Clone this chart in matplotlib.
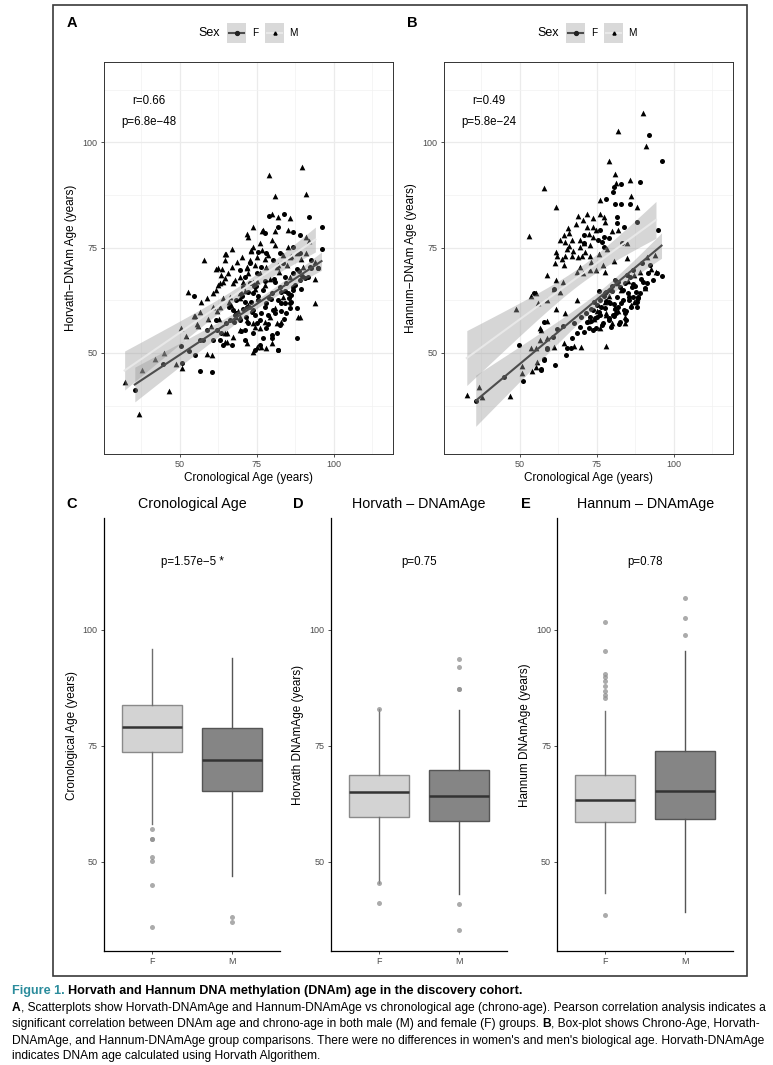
import numpy as np
import matplotlib
matplotlib.use("Agg")
import matplotlib.pyplot as plt
from matplotlib import font_manager
from matplotlib.patches import Rectangle
from matplotlib.lines import Line2D

# ---------------- dados ----------------
# Painel A: idade cronologica (x) vs Horvath DNAm (y)
a_f_x = [83.9, 78.9, 91.9, 96.0, 81.9, 86.9, 88.9, 77.8, 86.8, 96.0, 75.4,
         54.6, 54.9, 66.8, 74.4, 76.0, 79.8, 81.9, 87.9, 85.7, 84.1, 86.8, 89.5, 89.7, 92.7, 94.9,
         79.8, 70.0, 77.6, 78.7, 73.3, 71.1, 68.4, 67.6, 72.2, 74.4, 71.1, 81.9, 83.0, 87.9, 86.2,
         44.6, 50.8, 35.4, 50.3, 56.5, 60.6,
         69.5, 71.1, 72.7, 73.8, 75.4, 77.0, 78.1, 79.8, 80.3, 82.5, 83.0, 84.6, 85.2, 86.8, 86.8,
         89.0, 91.6, 92.2, 94.9, 89.0, 83.5, 82.5, 80.3, 78.1, 76.5, 74.9, 72.7, 70.6, 68.4, 67.3,
         66.2, 69.5, 71.1, 73.8, 77.0, 76.0, 78.1, 81.4, 82.5, 84.6, 85.7, 73.8, 71.7, 61.9, 63.5,
         64.1, 63.0, 60.8, 58.7, 56.5, 81.9,
         53.0, 57.5, 62.0, 65.0, 68.0, 75.5, 79.0, 84.0, 88.0, 92.5, 70.5, 74.0, 80.5, 66.0, 72.0,
         70.2, 72.5, 74.8, 76.3, 77.8, 79.5, 81.0, 82.8, 84.3, 86.0, 87.5, 88.7, 90.5, 75.2, 78.6,
         80.8, 83.7, 85.5, 73.0, 71.5]
a_f_y = [82.9, 82.5, 82.3, 80.0, 80.0, 78.8, 77.9, 78.4, 75.2, 74.6, 74.0,
         63.6, 49.5, 51.9, 50.7, 51.9, 53.6, 50.7, 53.6, 60.6, 61.8, 65.7, 65.3, 68.3, 70.2, 70.2,
         54.3, 55.1, 61.0, 59.0, 59.8, 62.2, 59.4, 57.4, 57.0, 59.0, 53.1, 62.6, 64.5, 60.6, 63.8,
         47.4, 47.5, 41.2, 51.6, 45.7, 45.4,
         69.7, 68.1, 66.5, 64.2, 62.6, 65.0, 61.8, 64.2, 60.2, 65.7, 61.8, 66.5, 64.2, 65.0, 68.9,
         67.3, 68.1, 70.5, 70.1, 73.7, 71.3, 73.7, 72.1, 73.7, 70.5, 68.9, 71.3, 65.7, 62.6, 60.2,
         57.8, 57.8, 55.5, 54.7, 53.5, 57.8, 55.9, 54.7, 56.6, 59.4, 61.8, 60.2, 61.0, 57.8, 54.7,
         51.9, 53.1, 53.1, 55.5, 53.1, 50.7,
         50.5, 53.0, 55.5, 57.0, 59.0, 63.5, 63.0, 68.0, 70.0, 72.0, 60.5, 66.0, 67.5, 61.0, 64.5,
         63.5, 60.8, 66.0, 59.5, 67.2, 62.8, 66.8, 60.0, 64.8, 62.0, 66.2, 69.5, 67.8, 57.2, 56.8,
         59.6, 58.0, 63.0, 62.0, 58.5]

a_m_x = [89.8, 78.9, 80.8, 90.9, 79.8, 81.9, 85.8, 73.8, 71.9, 76.7, 80.8, 85.0, 79.8, 90.9,
         66.8, 64.6, 73.0, 80.8, 85.0,
         57.8, 64.8, 68.7, 61.7, 63.7, 66.8, 64.1, 62.4, 52.7, 58.7, 60.8, 56.5, 54.6, 50.5, 55.7,
         58.7, 60.6, 64.8, 64.8, 71.7, 74.4, 77.6, 83.0, 79.8, 76.5, 73.8, 93.8, 94.0, 89.0, 72.2,
         69.5, 74.4, 77.6, 80.8, 69.5, 74.9, 77.6, 89.5, 71.7, 70.6, 62.4,
         54.9, 46.5, 36.7, 32.1, 37.6, 48.7, 50.8,
         64.9, 71.7, 73.0, 83.5, 85.7, 87.9, 91.1, 93.8, 88.4, 81.4, 73.8, 69.5, 65.2, 65.2, 67.3,
         74.9, 78.1, 63.0, 66.2, 69.5, 67.3, 69.5, 72.2, 73.8, 76.0, 78.1, 61.9, 64.1, 60.8, 63.0,
         64.6, 68.4, 71.7, 76.0, 79.2, 83.5, 85.7, 90.0, 81.4, 73.8, 76.0, 77.0, 72.2,
         42.0, 45.0, 52.0, 56.0, 59.0, 62.0, 66.0, 70.0, 75.0, 82.0, 86.0, 92.0,
         63.5, 65.8, 67.9, 70.2, 72.8, 74.5, 76.8, 78.5, 66.5, 68.8, 71.3, 75.5, 79.2, 82.2, 84.8,
         62.8, 60.0, 57.0]
a_m_y = [94.1, 92.2, 87.3, 87.7, 82.9, 82.3, 82.1, 79.9, 78.2, 79.0, 79.0, 79.2, 76.8, 77.6,
         74.7, 73.6, 74.4, 75.6, 75.1,
         72.0, 72.1, 71.5, 69.9, 69.9, 70.5, 66.9, 66.1, 64.4, 63.0, 61.0, 59.8, 58.8, 56.0, 56.8,
         49.7, 49.5, 52.5, 54.7, 52.3, 56.2, 57.4, 57.4, 52.3, 51.3, 50.3, 61.8, 67.6, 58.6, 61.3,
         63.0, 65.3, 66.1, 60.6, 58.6, 72.8, 72.4, 72.4, 70.1, 66.9, 70.1,
         58.8, 41.0, 35.4, 43.0, 46.0, 47.4, 46.4,
         73.5, 70.5, 74.3, 73.3, 72.9, 73.7, 73.7, 71.7, 58.6, 57.0, 57.0, 55.5, 54.7, 52.7, 53.9,
         51.5, 51.1, 61.0, 63.4, 64.2, 66.5, 68.1, 68.9, 66.9, 68.9, 70.5, 65.0, 63.0, 64.2, 66.5,
         67.7, 58.6, 57.8, 55.9, 58.6, 63.4, 68.1, 70.5, 70.5, 75.2, 76.0, 79.2, 77.6,
         48.5, 50.0, 54.0, 56.5, 58.0, 60.0, 62.0, 64.5, 67.0, 71.0, 73.0, 76.5,
         68.5, 69.0, 67.3, 72.8, 72.0, 70.8, 74.5, 73.2, 61.5, 60.0, 64.8, 63.0, 67.5, 69.2, 71.0,
         58.0, 56.5, 62.0]

# Painel B: idade cronologica (x) vs Hannum DNAm (y)
b_f_x = [92.0, 96.0, 89.0, 83.0, 80.2, 80.6, 78.0, 80.9, 82.8, 85.8, 81.5, 81.5, 83.9, 88.0,
         76.1, 77.2, 78.8, 71.0, 70.7, 75.5, 76.6, 77.2, 83.1, 94.7, 96.0,
         58.0, 61.5, 65.1, 66.6, 62.1, 58.9, 82.6, 84.2, 86.9, 89.0, 88.0, 91.2, 93.3, 94.4, 92.3,
         89.6, 86.9,
         85.8, 84.2, 82.6, 80.9, 79.3, 77.7, 76.1, 75.0, 73.9, 72.9, 71.8, 69.6, 70.7, 73.9, 76.6,
         78.8, 80.4, 82.0, 83.6, 85.2, 86.3, 83.6, 81.5, 79.3, 77.7, 76.1, 74.5, 72.3, 68.6, 66.9,
         35.7, 49.9, 51.0, 44.8, 58.9, 56.9, 58.0, 54.7, 57.8, 60.7, 57.0, 65.3, 61.0,
         87.5, 90.0, 91.5, 79.0, 81.0, 84.5, 75.0, 73.0, 70.0, 67.5, 64.0, 88.5, 85.5, 80.0, 78.0,
         74.2, 75.8, 77.3, 78.9, 80.5, 82.1, 83.7, 85.3, 86.8, 88.2, 73.0, 74.8, 76.4, 78.0, 79.6,
         81.2, 82.8, 84.4, 86.0, 87.6, 89.3, 71.5, 75.6, 79.8, 81.9, 84.8, 88.5, 90.6, 77.0, 80.7]
b_f_y = [101.7, 95.6, 90.5, 90.1, 88.3, 89.3, 86.5, 85.4, 85.4, 85.4, 82.3, 80.8, 80.0, 81.2,
         79.2, 77.6, 77.2, 78.0, 76.0, 76.8, 76.4, 75.2, 76.0, 79.2, 68.3,
         48.3, 47.1, 49.5, 51.1, 55.6, 51.1, 57.4, 59.4, 63.4, 64.2, 62.2, 66.5, 67.3, 68.9, 70.9,
         71.3, 69.7,
         68.1, 66.5, 65.7, 67.3, 64.9, 64.2, 62.6, 61.4, 60.2, 58.6, 57.4, 56.2, 55.0, 55.5, 56.6,
         57.8, 59.0, 61.0, 62.6, 64.2, 65.7, 64.9, 63.4, 61.8, 60.6, 59.0, 58.2, 55.9, 54.7, 53.5,
         38.7, 52.0, 43.3, 44.2, 50.9, 46.0, 48.5, 64.2, 57.4, 53.9, 46.1, 51.1, 65.3,
         66.0, 66.8, 69.0, 62.0, 60.5, 60.0, 58.5, 60.5, 58.5, 57.0, 56.5, 63.0, 62.5, 66.0, 64.5,
         62.0, 59.8, 63.6, 58.4, 61.6, 56.8, 60.2, 63.2, 66.4, 60.8, 57.6, 56.0, 60.8, 62.4, 56.2,
         59.4, 61.8, 57.9, 61.0, 64.4, 67.6, 59.6, 64.8, 64.6, 66.8, 68.6, 63.2, 65.5, 57.2, 58.8]

b_m_x = [89.9, 82.0, 91.0, 79.0, 58.0, 61.9, 80.9, 85.8, 81.3, 86.0, 88.0, 75.9, 68.9, 71.8,
         73.9, 76.1, 77.2, 77.7, 65.8, 64.2, 71.8, 73.9, 79.9, 82.0, 84.9, 63.2, 64.8, 66.9, 69.6,
         70.7, 72.9, 73.9, 61.9, 65.3, 69.6, 64.8, 66.9, 70.2, 72.9, 93.9,
         62.1, 61.5, 64.5, 69.6, 70.5, 72.9, 68.6, 74.8, 77.7, 58.9, 61.9, 64.0, 61.0, 63.2, 68.6,
         58.9, 61.9, 64.8, 56.7, 58.9, 61.0, 64.2, 67.5, 69.9, 77.9, 89.0,
         32.8, 36.7, 37.8, 46.8, 48.9, 50.8, 50.8, 53.7, 55.1, 56.0, 58.9, 56.9, 53.5, 55.1, 54.0,
         55.1, 55.6, 56.7, 52.9, 94.2, 91.2, 84.7,
         74.0, 76.0, 78.0, 80.0, 82.0, 84.0, 86.0, 88.0, 79.0, 83.0, 75.0, 77.5, 81.5, 85.0, 72.0,
         87.0, 90.5, 92.5,
         66.0, 68.2, 70.4, 72.6, 74.6, 67.4, 71.2, 75.8, 78.4, 63.6, 65.9, 69.0, 73.1, 76.9, 80.6,
         78.0, 81.0, 84.0, 87.0]
b_m_y = [107.0, 102.8, 99.1, 95.7, 89.2, 84.7, 92.6, 91.1, 90.3, 87.3, 84.7, 86.3, 82.5, 83.1,
         82.0, 83.1, 82.3, 81.2, 79.6, 78.0, 79.8, 80.0, 79.0, 79.2, 76.0, 76.8, 76.4, 76.8, 76.8,
         76.0, 75.6, 77.6, 74.0, 74.8, 75.2, 73.0, 73.0, 73.0, 73.0, 73.3,
         73.0, 71.4, 70.9, 70.3, 68.9, 69.7, 69.3, 69.7, 69.3, 68.5, 67.3, 66.9, 65.3, 64.5, 62.6,
         62.6, 60.4, 59.6, 55.9, 53.5, 51.3, 52.3, 51.7, 51.3, 51.7, 69.3,
         40.0, 41.8, 39.5, 39.8, 60.4, 46.9, 45.2, 63.5, 64.3, 61.9, 57.6, 55.4, 51.1, 51.1, 45.6,
         46.7, 47.9, 53.1, 77.8, 69.3, 72.8, 72.5,
         58.0, 56.0, 59.5, 57.0, 60.0, 58.5, 61.5, 63.0, 63.5, 65.0, 60.0, 62.0, 66.5, 67.0, 57.5,
         68.5, 65.5, 70.0,
         78.4, 80.6, 81.6, 78.2, 79.3, 74.2, 74.0, 73.6, 74.8, 72.2, 75.5, 72.8, 71.6, 70.8, 71.9,
         59.0, 61.0, 57.0, 62.0]

# estatisticas r / p dos paineis de dispersao
scatter_r = ["r=0.66", "r=0.49"]
scatter_p = ["p=6.8e\u221248", "p=5.8e\u221224"]

# Box-plots: [F, M] -> q1, mediana, q3, bigode inferior, bigode superior, outliers
grupos = ["F", "M"]
box_titulos = ["Cronological Age", "Horvath \u2013 DNAmAge", "Hannum \u2013 DNAmAge"]
box_ylabels = ["Cronological Age (years)", "Horvath DNAmAge (years)", "Hannum DNAmAge (years)"]
box_pvalores = ["p=1.57e\u22125 *", "p=0.75", "p=0.78"]
box_q1 = [[73.6, 65.2], [59.6, 58.8], [58.5, 59.3]]
box_med = [[79.0, 72.0], [65.0, 64.2], [63.4, 65.3]]
box_q3 = [[83.8, 78.8], [68.8, 69.8], [68.8, 73.9]]
box_wlo = [[58.1, 47.0], [45.4, 43.1], [43.3, 39.1]]
box_whi = [[95.8, 93.9], [82.9, 82.8], [82.5, 95.5]]
box_out = [
    [[57.0, 55.0, 55.0, 51.1, 50.2, 45.0, 36.0], [38.2, 37.1]],
    [[82.9, 45.4, 41.2], [93.8, 92.0, 87.2, 87.2, 40.9, 35.3]],
    [[101.6, 95.5, 90.4, 89.9, 89.0, 87.8, 86.9, 86.0, 85.3, 38.6], [106.8, 102.6, 98.9]],
]

# ---------------- layout ----------------
W, H = 773, 1065
fig = plt.figure(figsize=(W / 100, H / 100), dpi=100)

nomes = {f.name for f in font_manager.fontManager.ttflist}
fonte = "Liberation Sans" if "Liberation Sans" in nomes else "DejaVu Sans"
plt.rcParams["font.family"] = fonte


def px_ax(l, t, r, b):
    return fig.add_axes([l / W, 1 - b / H, (r - l) / W, (b - t) / H])


def fx(x):
    return x / W


def fy(y):
    return 1 - y / H


COR_TICK = "#4D4D4D"


def regressao(ax, x, y, cor):
    x = np.asarray(x)
    y = np.asarray(y)
    n = len(x)
    b1, b0 = np.polyfit(x, y, 1)
    xs = np.linspace(x.min(), x.max(), 80)
    ys = b0 + b1 * xs
    res = y - (b0 + b1 * x)
    s = np.sqrt(np.sum(res ** 2) / (n - 2))
    sxx = np.sum((x - x.mean()) ** 2)
    se = s * np.sqrt(1 / n + (xs - x.mean()) ** 2 / sxx)
    ax.fill_between(xs, ys - 1.97 * se, ys + 1.97 * se, color="#999999", alpha=0.4,
                    linewidth=0, zorder=3)
    ax.plot(xs, ys, color=cor, lw=1.5, zorder=4)


def painel_dispersao(ax, fxs, fys, mxs, mys, ylabel, r_txt, p_txt):
    ax.scatter(fxs, fys, s=13, marker="o", color="black", linewidths=0, zorder=2)
    ax.scatter(mxs, mys, s=17, marker="^", color="black", linewidths=0, zorder=2)
    regressao(ax, fxs, fys, "#4D4D4D")
    regressao(ax, mxs, mys, "#E8E8E8")
    ax.set_xlim(25.4, 119.2)
    ax.set_ylim(26.0, 119.1)
    ax.set_xticks([50, 75, 100])
    ax.set_yticks([50, 75, 100])
    ax.set_xticks([37.5, 62.5, 87.5, 112.5], minor=True)
    ax.set_yticks([37.5, 62.5, 87.5, 112.5], minor=True)
    ax.grid(which="major", color="#EBEBEB", lw=0.9, zorder=0)
    ax.grid(which="minor", color="#F2F2F2", lw=0.5, zorder=0)
    ax.set_axisbelow(True)
    ax.tick_params(which="minor", length=0)
    ax.tick_params(which="major", length=2.5, width=0.6, color="#333333",
                   labelsize=6.5, labelcolor=COR_TICK, pad=2)
    for sp in ax.spines.values():
        sp.set_color("#333333")
        sp.set_linewidth(0.7)
    ax.set_xlabel("Cronological Age (years)", fontsize=8.5, labelpad=2)
    ax.set_ylabel(ylabel, fontsize=8.5, labelpad=4)
    ax.text(40, 109.8, r_txt, ha="center", va="center", fontsize=8.3)
    ax.text(40, 104.8, p_txt, ha="center", va="center", fontsize=8.3)


axA = px_ax(104, 62, 393, 454)
painel_dispersao(axA, a_f_x, a_f_y, a_m_x, a_m_y, "Horvath\u2212DNAm Age (years)",
                 scatter_r[0], scatter_p[0])
axB = px_ax(444, 62, 733, 454)
painel_dispersao(axB, b_f_x, b_f_y, b_m_x, b_m_y, "Hannum\u2212DNAm Age (years)",
                 scatter_r[1], scatter_p[1])


def legenda(dx):
    fig.text(fx(209 + dx), fy(33), "Sex", ha="center", va="center", fontsize=9)
    for i, (lab, cor, mk) in enumerate([("F", "#4D4D4D", "o"), ("M", "#E8E8E8", "^")]):
        x0 = 227 + dx + i * 38
        fig.patches.append(Rectangle((fx(x0), fy(43)), 19 / W, 20 / H, transform=fig.transFigure,
                                     facecolor="#D9D9D9", edgecolor="none"))
        fig.lines.append(Line2D([fx(x0 + 2), fx(x0 + 17)], [fy(33), fy(33)], transform=fig.transFigure,
                                color=cor, lw=1.5))
        fig.lines.append(Line2D([fx(x0 + 9.5)], [fy(33)], transform=fig.transFigure, marker=mk,
                                color="#222222" if mk == "o" else "black",
                                markersize=2.8 if mk == "o" else 2.2, lw=0))
        fig.text(fx(x0 + 28), fy(33), lab, ha="center", va="center", fontsize=7.2)


legenda(0)
legenda(339.3)
fig.text(fx(72), fy(23), "A", ha="center", va="center", fontsize=10.5, fontweight="bold")
fig.text(fx(412), fy(23), "B", ha="center", va="center", fontsize=10.5, fontweight="bold")

# ---------------- box-plots ----------------
box_pos = [(104, 280), (330.7, 506.7), (557.3, 733.3)]
letras = ["C", "D", "E"]
letra_x = [72, 298, 526]
ylab_x = [72, 298, 525]
preench = ["#D3D3D3", "#858585"]
bordas = ["#8A8A8A", "#555555"]

for k in range(3):
    l, r = box_pos[k]
    ax = px_ax(l, 518, r, 951)
    for j in range(2):
        st = [dict(med=box_med[k][j], q1=box_q1[k][j], q3=box_q3[k][j],
                   whislo=box_wlo[k][j], whishi=box_whi[k][j], fliers=box_out[k][j], label=grupos[j])]
        ax.bxp(st, positions=[j + 1], widths=0.75, patch_artist=True,
               boxprops=dict(facecolor=preench[j], edgecolor=bordas[j], linewidth=1.0),
               whiskerprops=dict(color=bordas[j] if j == 1 else "#6E6E6E", linewidth=1.0),
               capprops=dict(linewidth=0),
               medianprops=dict(color="#333333", linewidth=1.8),
               flierprops=dict(marker="o", markerfacecolor="#8F8F8F", markeredgecolor="none",
                               markersize=3.6, alpha=0.75))
    ax.set_xlim(0.4, 2.6)
    ax.set_ylim(30.8, 124.1)
    ax.set_xticks([1, 2])
    ax.set_xticklabels(grupos)
    ax.set_yticks([50, 75, 100])
    ax.tick_params(length=2.5, width=0.6, color="#333333", labelsize=6.5, labelcolor=COR_TICK, pad=2)
    for s in ["top", "right"]:
        ax.spines[s].set_visible(False)
    for s in ["left", "bottom"]:
        ax.spines[s].set_linewidth(0.9)
    ax.text(1.5, 114.7, box_pvalores[k], ha="center", va="center", fontsize=8.3)
    fig.text(fx((l + r) / 2), fy(504), box_titulos[k], ha="center", va="center", fontsize=10.3)
    fig.text(fx(letra_x[k]), fy(504), letras[k], ha="center", va="center", fontsize=10.5,
             fontweight="bold")
    fig.text(fx(ylab_x[k]), fy(735), box_ylabels[k], ha="center", va="center", rotation=90,
             fontsize=8.5)

# moldura externa
fig.patches.append(Rectangle((fx(53), fy(976)), (747 - 53) / W, (976 - 5) / H, transform=fig.transFigure,
                             facecolor="none", edgecolor="#3A3A3A", lw=1.2))

# ---------------- legenda da figura ----------------
renderer = fig.canvas.get_renderer()
TEAL = "#2B8C9C"

cap_linhas = [
    (990.7, [("Figure 1. ", "bold", TEAL),
             ("Horvath and Hannum DNA methylation (DNAm) age in the discovery cohort.", "bold", "black")]),
    (1007.7, [("A", "bold", "black"),
              (", Scatterplots show Horvath-DNAmAge and Hannum-DNAmAge vs chronological age (chrono-age). "
               "Pearson correlation analysis indicates a", "normal", "black")]),
    (1024.3, [("significant correlation between DNAm age and chrono-age in both male (M) and female (F) groups. ",
               "normal", "black"), ("B", "bold", "black"),
              (", Box-plot shows Chrono-Age, Horvath-", "normal", "black")]),
    (1040.7, [("DNAmAge, and Hannum-DNAmAge group comparisons. There were no differences in women's and "
               "men's biological age. Horvath-DNAmAge", "normal", "black")]),
    (1056.5, [("indicates DNAm age calculated using Horvath Algorithem.", "normal", "black")]),
]


def largura(partes, size):
    w = 0
    for txt, peso, cor in partes:
        t = fig.text(0, 0, txt, fontsize=size, fontweight=peso)
        w += t.get_window_extent(renderer).width
        t.remove()
    return w


# tamanho da fonte ajustado para a linha mais longa caber entre x=12 e x=765
base = 10.0
tam = base * 753 / largura(cap_linhas[1][1], base)
tam_tit = base * 510 / largura(cap_linhas[0][1], base)


def linha(y, partes, size):
    x = 12
    for txt, peso, cor in partes:
        t = fig.text(fx(x), fy(y), txt, ha="left", va="center", fontsize=size, fontweight=peso,
                     color=cor)
        x += t.get_window_extent(renderer).width


for i, (y, partes) in enumerate(cap_linhas):
    linha(y, partes, tam_tit if i == 0 else tam)

fig.savefig("out.png", dpi=100)
